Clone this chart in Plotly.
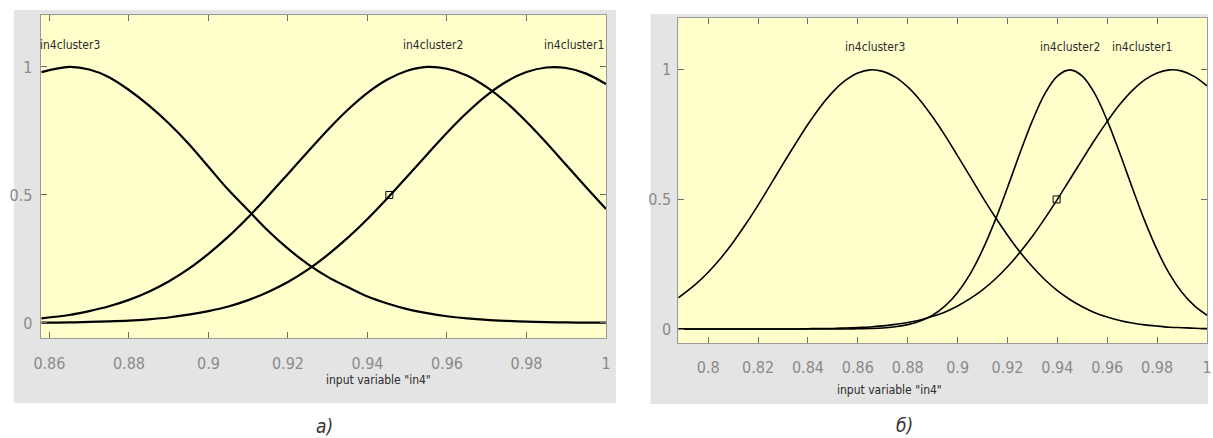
import plotly.graph_objects as go

# panel a) membership functions
x_left = [0.858, 0.865, 0.870, 0.875, 0.880, 0.885, 0.890, 0.895, 0.900, 0.905,
          0.910, 0.915, 0.920, 0.925, 0.930, 0.935, 0.940, 0.945, 0.950, 0.955,
          0.960, 0.965, 0.970, 0.975, 0.980, 0.985, 0.990, 0.995, 1.000]
left_cluster3 = [0.98, 1.00, 0.99, 0.96, 0.91, 0.85, 0.78, 0.70, 0.61, 0.52,
                 0.44, 0.36, 0.29, 0.23, 0.18, 0.14, 0.103, 0.076, 0.054, 0.038,
                 0.026, 0.018, 0.012, 0.008, 0.005, 0.003, 0.002, 0.001, 0.001]
left_cluster2 = [0.018, 0.031, 0.046, 0.065, 0.090, 0.122, 0.162, 0.211, 0.270, 0.337,
                 0.413, 0.496, 0.582, 0.669, 0.754, 0.832, 0.899, 0.951, 0.985, 1.000,
                 0.993, 0.967, 0.921, 0.860, 0.786, 0.704, 0.617, 0.530, 0.445]
left_cluster1 = [0.001, 0.002, 0.004, 0.006, 0.009, 0.014, 0.021, 0.032, 0.046, 0.064,
                 0.089, 0.121, 0.160, 0.208, 0.266, 0.332, 0.406, 0.487, 0.572, 0.658,
                 0.743, 0.821, 0.889, 0.943, 0.980, 0.998, 0.996, 0.974, 0.933]
left_marker = [0.9455, 0.5]

# panel б)
x_right = [0.788, 0.795, 0.800, 0.805, 0.810, 0.815, 0.820, 0.825, 0.830, 0.835,
           0.840, 0.845, 0.850, 0.855, 0.860, 0.865, 0.870, 0.875, 0.880, 0.885,
           0.890, 0.895, 0.900, 0.905, 0.910, 0.915, 0.920, 0.925, 0.930, 0.935,
           0.940, 0.945, 0.950, 0.955, 0.960, 0.965, 0.970, 0.975, 0.980, 0.985,
           0.990, 0.995, 1.000]
right_cluster3 = [0.120, 0.173, 0.219, 0.273, 0.335, 0.404, 0.478, 0.557, 0.637, 0.715,
                  0.790, 0.858, 0.915, 0.959, 0.988, 1.000, 0.994, 0.972, 0.934, 0.882,
                  0.818, 0.746, 0.668, 0.589, 0.509, 0.433, 0.362, 0.297, 0.240, 0.190,
                  0.148, 0.114, 0.086, 0.063, 0.046, 0.033, 0.023, 0.016, 0.011, 0.007,
                  0.005, 0.003, 0.002]
right_cluster2 = [0, 0, 0, 0, 0, 0, 0, 0, 0, 0,
                  0, 0, 0, 0, 0.001, 0.002, 0.004, 0.009, 0.017, 0.031,
                  0.053, 0.089, 0.141, 0.212, 0.305, 0.418, 0.546, 0.679, 0.804, 0.908,
                  0.976, 1.000, 0.976, 0.908, 0.804, 0.679, 0.546, 0.418, 0.305, 0.212,
                  0.141, 0.089, 0.053]
right_cluster1 = [0, 0, 0, 0, 0, 0, 0, 0, 0, 0,
                  0.001, 0.002, 0.002, 0.004, 0.006, 0.008, 0.012, 0.018, 0.025, 0.035,
                  0.049, 0.066, 0.089, 0.117, 0.151, 0.192, 0.240, 0.296, 0.358, 0.427,
                  0.500, 0.577, 0.654, 0.730, 0.801, 0.866, 0.920, 0.961, 0.988, 1.000,
                  0.995, 0.974, 0.938]
right_marker = [0.9397, 0.5]

left_ticks = [0.86, 0.88, 0.90, 0.92, 0.94, 0.96, 0.98, 1.00]
left_ticktext = ["0.86", "0.88", "0.9", "0.92", "0.94", "0.96", "0.98", "1"]
right_ticks = [0.80, 0.82, 0.84, 0.86, 0.88, 0.90, 0.92, 0.94, 0.96, 0.98, 1.00]
right_ticktext = ["0.8", "0.82", "0.84", "0.86", "0.88", "0.9", "0.92", "0.94", "0.96", "0.98", "1"]
y_ticks = [0, 0.5, 1]
y_ticktext = ["0", "0.5", "1"]

FONT = "Liberation Sans Narrow, DejaVu Sans Condensed, Roboto, sans-serif"
W, H = 1213, 438


def px_x(p):
    return p / W


def px_y(p):
    return 1 - p / H


def add_panel(fig, n, x, curves, marker, lw):
    xa = "x" if n == 1 else "x2"
    ya = "y" if n == 1 else "y2"
    for c in curves:
        fig.add_trace(go.Scatter(x=x, y=c, mode="lines", xaxis=xa, yaxis=ya,
                                 line=dict(color="black", width=lw, shape="spline", smoothing=1.0),
                                 hoverinfo="skip", showlegend=False))
    fig.add_trace(go.Scatter(x=[marker[0]], y=[marker[1]], mode="markers", xaxis=xa, yaxis=ya,
                             marker=dict(symbol="square-open", size=7, color="black",
                                         line=dict(width=1)),
                             showlegend=False))


fig = go.Figure()
add_panel(fig, 1, x_left, [left_cluster3, left_cluster2, left_cluster1], left_marker, 2.2)
add_panel(fig, 2, x_right, [right_cluster3, right_cluster2, right_cluster1], right_marker, 1.6)

axis_common = dict(showgrid=False, zeroline=False, showline=True, linecolor="#9a9a9a",
                   linewidth=1, mirror="allticks", ticks="inside", ticklen=6,
                   tickcolor="#6e6e6e", tickwidth=1,
                   tickfont=dict(family=FONT, size=16, color="#8a8a8a"))

fig.update_layout(
    width=W, height=H,
    margin=dict(l=0, r=0, t=0, b=0),
    paper_bgcolor="white",
    plot_bgcolor="#ffffcc",
    xaxis=dict(domain=[px_x(34), px_x(605)], range=[0.8578, 1.0], tickmode="array",
               tickvals=left_ticks, ticktext=left_ticktext, ticklabelstandoff=11,
               anchor="y", **axis_common),
    yaxis=dict(domain=[px_y(338), px_y(15)], range=[-0.059, 1.203], tickmode="array",
               tickvals=y_ticks, ticktext=y_ticktext, ticklabelstandoff=4,
               anchor="x", **axis_common),
    xaxis2=dict(domain=[px_x(678), px_x(1212)], range=[0.788, 1.0], tickmode="array",
                tickvals=right_ticks, ticktext=right_ticktext, ticklabelstandoff=10,
                anchor="y2", **axis_common),
    yaxis2=dict(domain=[px_y(343), px_y(18)], range=[-0.054, 1.2], tickmode="array",
                tickvals=y_ticks, ticktext=y_ticktext, ticklabelstandoff=3,
                anchor="x2", **axis_common),
)

# grey figure frames, then the yellow axes areas on top of them
fig.add_shape(type="rect", xref="paper", yref="paper", layer="below",
              x0=px_x(7), x1=px_x(615), y0=px_y(403), y1=px_y(10),
              fillcolor="#e4e4e4", line=dict(width=0))
fig.add_shape(type="rect", xref="paper", yref="paper", layer="below",
              x0=px_x(650), x1=1.0, y0=px_y(404), y1=px_y(14),
              fillcolor="#e4e4e4", line=dict(width=0))
fig.add_shape(type="rect", xref="x domain", yref="y domain", layer="below",
              x0=0, x1=1, y0=0, y1=1, fillcolor="#ffffcc", line=dict(width=0))
fig.add_shape(type="rect", xref="x2 domain", yref="y2 domain", layer="below",
              x0=0, x1=1, y0=0, y1=1, fillcolor="#ffffcc", line=dict(width=0))

label_font = dict(family=FONT, size=12, color="#2b2b2b")
# cluster names
fig.add_annotation(x=0.8652, y=1.086, xref="x", yref="y", text="in4cluster3",
                   showarrow=False, font=label_font)
fig.add_annotation(x=0.9565, y=1.086, xref="x", yref="y", text="in4cluster2",
                   showarrow=False, font=label_font)
fig.add_annotation(x=1.0, y=1.086, xref="x", yref="y", text="in4cluster1",
                   showarrow=False, xanchor="right", font=label_font)
fig.add_annotation(x=0.867, y=1.089, xref="x2", yref="y2", text="in4cluster3",
                   showarrow=False, font=label_font)
fig.add_annotation(x=0.9452, y=1.089, xref="x2", yref="y2", text="in4cluster2",
                   showarrow=False, font=label_font)
fig.add_annotation(x=0.9738, y=1.089, xref="x2", yref="y2", text="in4cluster1",
                   showarrow=False, font=label_font)

# axis titles and captions
fig.add_annotation(x=px_x(320), y=px_y(380), xref="paper", yref="paper", yanchor="middle",
                   text='input variable "in4"', showarrow=False, font=label_font)
fig.add_annotation(x=px_x(946), y=px_y(390), xref="paper", yref="paper", yanchor="middle",
                   text='input variable "in4"', showarrow=False, font=label_font)
cap_font = dict(family=FONT, size=19, color="#333333", style="italic")
fig.add_annotation(x=px_x(310), y=px_y(426), xref="paper", yref="paper", yanchor="middle",
                   text="а)", showarrow=False, font=cap_font)
fig.add_annotation(x=px_x(917), y=px_y(425), xref="paper", yref="paper", yanchor="middle",
                   text="б)", showarrow=False, font=cap_font)

# drop the default page margin so the figure sits at the window's corner
fig.write_html("out.html", config={"displayModeBar": False},
               post_script="document.body.style.margin='0';")
